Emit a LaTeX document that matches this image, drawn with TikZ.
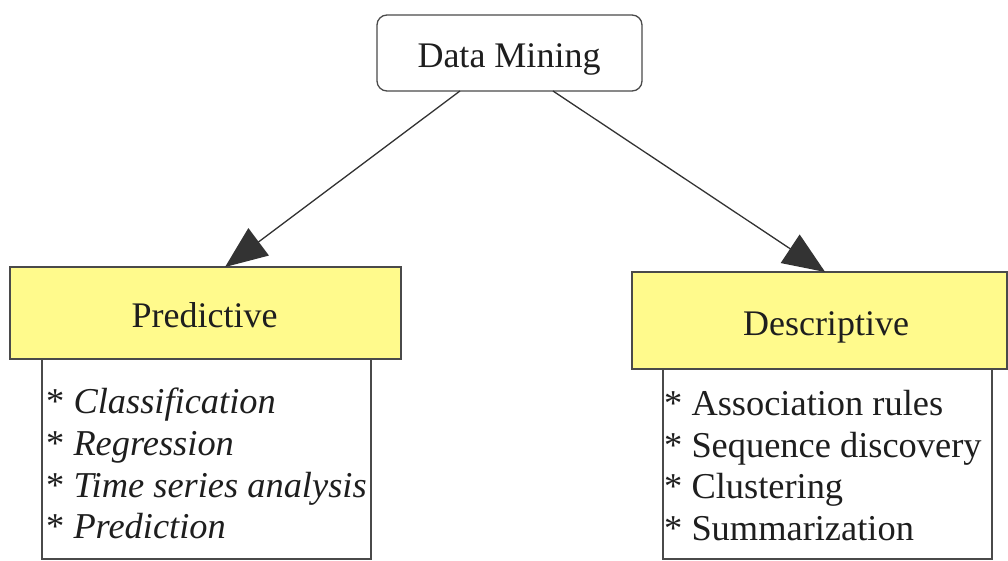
\documentclass[tikz,border=0pt]{standalone}
\usepackage{fontspec}
\setmainfont{Liberation Serif}
\usetikzlibrary{arrows.meta,calc}

\definecolor{boxline}{HTML}{4A4A4A}
\definecolor{headfill}{RGB}{255,250,140}
\definecolor{inkdark}{HTML}{1E1E1E}
\definecolor{arrowgray}{HTML}{333333}

\tikzset{
  shapebox/.style={draw=boxline, line width=1.3pt, inner sep=0pt, outer sep=0pt},
  rootbox/.style={shapebox, rounded corners=10pt, fill=white},
  headbox/.style={shapebox, fill=headfill},
  listbox/.style={shapebox, fill=white, line width=1.1pt},
  bigtext/.style={font=\fontsize{36}{42}\selectfont, text=inkdark, inner sep=0pt, anchor=base},
  itemtext/.style={font=\fontsize{36.4}{42}\selectfont, text=inkdark, inner sep=0pt, anchor=base west},
  link/.style={draw=arrowgray, line width=1.3pt, -{Triangle[length=42pt,width=34pt]}}
}

\begin{document}
\begin{tikzpicture}[x=1pt,y=-1pt]
  \useasboundingbox (0,0) rectangle (1008,561);

  % root
  \node[rootbox, minimum width=265pt, minimum height=76pt] (dm) at (509.5,53) {};
  \node[bigtext] (dmtext) at (509,68) {Data Mining};

  % item lists (drawn before the headers so the headers sit on top)
  \node[listbox, minimum width=329pt, minimum height=200pt] (plist) at (206.5,459) {};
  \node[listbox, minimum width=329pt, minimum height=190pt] (dlist) at (827.5,464) {};

  % headers
  \node[headbox, minimum width=391pt, minimum height=92pt] (pred) at (205.5,313) {};
  \node[bigtext] (predtext) at (204.5,327) {Predictive};
  \node[headbox, minimum width=375pt, minimum height=97pt] (desc) at (819.5,320.5) {};
  \node[bigtext] (desctext) at (826,335) {Descriptive};

  % predictive techniques
  \node[itemtext] (p1) at (46,413) {* \textit{Classification}};
  \node[itemtext] (p2) at (46,455) {* \textit{Regression}};
  \node[itemtext] (p3) at (46,497) {* \textit{Time series analysis}};
  \node[itemtext] (p4) at (46,538) {* \textit{Prediction}};

  % descriptive techniques
  \node[itemtext] (d1) at (664,415) {* Association rules};
  \node[itemtext] (d2) at (664,457) {* Sequence discovery};
  \node[itemtext] (d3) at (664,498) {* Clustering};
  \node[itemtext] (d4) at (664,540) {* Summarization};

  % connectors
  \draw[link] ($(dm.south west)!0.313!(dm.south east)$) -- ($(pred.north west)!0.55!(pred.north east)$);
  \draw[link] ($(dm.south west)!0.664!(dm.south east)$) -- ($(desc.north west)!0.515!(desc.north east)$);
\end{tikzpicture}
\end{document}
